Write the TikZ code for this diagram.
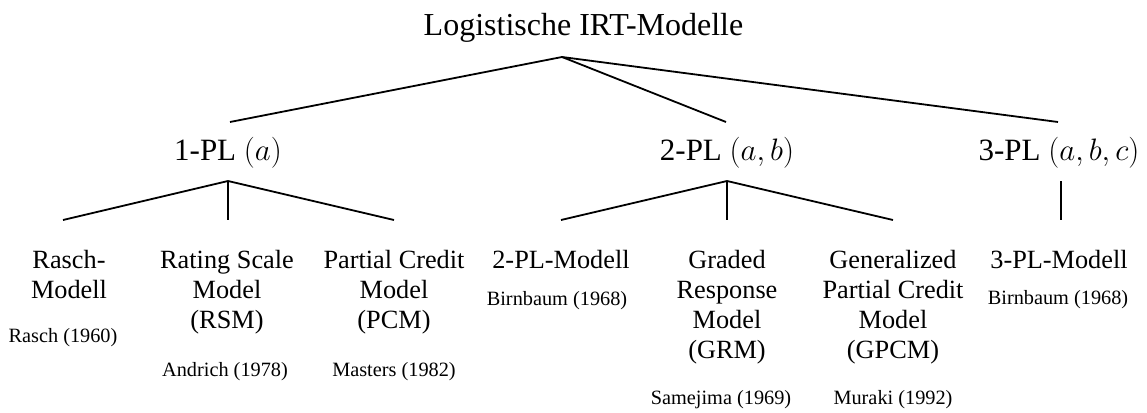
\RequirePackage{fix-cm}
\documentclass[tikz,border=0pt]{standalone}
\usepackage{fontspec}
\setmainfont{Liberation Serif}
\begin{document}
\begin{tikzpicture}[x=1pt,y=-1pt,
  edge/.style={line width=1.8pt},
  rootlabel/.style={font=\fontsize{32}{38}\selectfont, anchor=base, inner sep=0pt},
  famlabel/.style={font=\fontsize{31}{37}\selectfont, anchor=base, inner sep=0pt},
  leaf/.style={font=\fontsize{26.3}{30}\selectfont, align=center, anchor=north, inner sep=0pt},
  cite/.style={font=\fontsize{20.3}{24}\selectfont, anchor=base, inner sep=0pt}]
\useasboundingbox (0,0) rectangle (1147,412);
\newcommand{\fl}{\rule{0pt}{20pt}}

% root
\node[rootlabel] (root) at (583.5,36) {Logistische IRT-Modelle};
\coordinate (rootfork) at (562,57);
\coordinate (e1) at (230,122);
\coordinate (e2) at (726,122);
\coordinate (e3) at (1058,122);
\draw[edge] (e1) -- (rootfork) -- (e3);
\draw[edge] (rootfork) -- (e2);

% model families
\node[famlabel] (pl1) at (228,160) {1-PL $(a)$};
\node[famlabel] (pl2) at (727,160) {2-PL $(a,b)$};
\node[famlabel] (pl3) at (1059,160) {3-PL $(a,b,c)$};

% branches of 1-PL
\coordinate (f1) at (228,181);
\coordinate (a1) at (63,220);
\coordinate (a2) at (228,220);
\coordinate (a3) at (394,220);
\draw[edge] (a1) -- (f1) -- (a3);
\draw[edge] (f1) -- (a2);

% branches of 2-PL
\coordinate (f2) at (727,181);
\coordinate (b1) at (561,220);
\coordinate (b2) at (727,220);
\coordinate (b3) at (893,220);
\draw[edge] (b1) -- (f2) -- (b3);
\draw[edge] (f2) -- (b2);

% single branch of 3-PL
\coordinate (f3) at (1061,181);
\coordinate (c1) at (1061,220);
\draw[edge] (f3) -- (c1);

% models
\node[leaf] (rasch) at (69,248) {\fl Rasch-\\Modell};
\node[leaf] (rsm)   at (227,248) {\fl Rating Scale\\Model\\(RSM)};
\node[leaf] (pcm)   at (394,248) {\fl Partial Credit\\Model\\(PCM)};
\node[leaf] (twopl) at (561,248) {\fl 2-PL-Modell};
\node[leaf] (grm)   at (727,248) {\fl Graded\\Response\\Model\\(GRM)};
\node[leaf] (gpcm)  at (893,248) {\fl Generalized\\Partial Credit\\Model\\(GPCM)};
\node[leaf] (thrpl) at (1059,248) {\fl 3-PL-Modell};

% references
\node[cite] (crasch) at (63,342) {Rasch (1960)};
\node[cite] (crsm)   at (225,376) {Andrich (1978)};
\node[cite] (cpcm)   at (394,376) {Masters (1982)};
\node[cite] (ctwopl) at (557,305) {Birnbaum (1968)};
\node[cite] (cgrm)   at (721,404) {Samejima (1969)};
\node[cite] (cgpcm)  at (893,404) {Muraki (1992)};
\node[cite] (cthrpl) at (1058,304) {Birnbaum (1968)};
\end{tikzpicture}
\end{document}
